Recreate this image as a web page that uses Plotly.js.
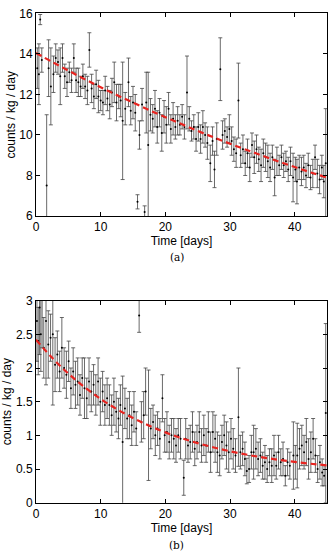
<!DOCTYPE html>
<html><head><meta charset="utf-8">
<script src="https://cdn.plot.ly/plotly-3.0.1.min.js"></script>
<style>html,body{margin:0;padding:0;background:#fff}#c{width:332px;height:551px}</style>
</head><body><div id="c"></div>
<script>
// ---- Panel (a) data ----
const timeA = [0.20,0.45,0.65,0.90,1.65,1.95,2.30,2.70,3.05,3.40,
  3.75,4.10,4.45,4.80,5.15,5.50,5.85,6.20,6.55,6.90,
  7.25,7.60,7.95,8.25,8.60,8.95,9.30,9.65,10.00,10.35,
  10.70,11.05,11.40,11.75,12.10,12.45,12.80,13.10,13.40,13.80,
  14.30,14.65,15.00,15.35,15.70,16.00,16.40,16.80,17.05,17.35,
  17.70,18.05,18.40,18.75,19.10,19.45,19.80,20.15,20.50,20.85,
  21.20,21.55,21.90,22.25,22.60,22.95,23.35,23.70,24.05,24.40,
  24.75,25.10,25.45,25.80,26.15,26.50,26.95,27.30,27.60,27.95,
  28.50,28.85,29.20,29.55,29.90,30.25,30.60,30.95,31.30,31.65,
  32.00,32.35,32.70,33.05,33.40,33.75,34.10,34.45,34.80,35.15,
  35.50,35.85,36.20,36.55,36.90,37.25,37.60,37.95,38.30,38.65,
  39.00,39.35,39.75,40.10,40.35,40.70,41.05,41.40,41.75,42.10,
  42.45,42.80,43.15,43.50,43.85,44.20,44.50,44.80];
const ratesA = [13.3,13.0,15.7,13.7,7.5,13.3,12.4,13.0,13.8,13.6,
  12.9,13.8,12.9,12.6,13.1,12.7,13.8,12.7,12.6,12.4,
  12.9,12.4,12.2,14.2,12.3,11.9,12.5,11.9,11.7,11.6,
  12.2,11.8,11.5,12.1,12.6,11.6,11.9,11.7,10.7,11.3,
  12.6,11.2,11.6,11.1,6.7,10.0,11.5,6.2,11.6,9.5,
  11.0,10.8,11.3,10.4,11.1,10.1,10.9,10.5,11.3,10.3,
  10.8,10.4,10.7,10.5,10.9,10.4,12.1,10.8,10.2,10.4,
  9.8,10.4,9.8,10.4,10.0,9.6,8.6,9.7,8.3,9.8,
  13.25,10.0,10.2,9.9,10.3,9.7,9.3,9.1,11.7,9.0,
  9.3,8.6,9.1,8.4,9.5,8.9,9.3,8.8,8.5,9.1,
  8.9,8.7,8.4,8.9,7.9,8.7,8.5,8.9,8.5,8.7,
  8.3,8.7,7.9,8.3,7.7,8.4,8.2,8.4,8.0,8.5,
  7.9,8.1,8.9,8.1,7.8,8.4,7.7,8.6];
const errsA = [1.0,1.5,0.25,0.6,3.5,1.4,1.9,0.9,0.7,0.6,
  1.4,0.7,0.6,0.7,0.5,0.6,0.7,0.6,0.7,0.5,
  0.6,0.6,0.7,0.85,0.7,0.6,0.7,0.8,0.5,0.6,
  0.7,0.6,0.7,0.7,1.0,0.9,0.6,0.8,2.9,0.8,
  1.2,0.7,0.8,0.9,0.35,0.7,0.8,0.3,1.5,3.6,
  0.8,0.7,0.9,0.8,0.7,0.9,0.8,0.9,0.8,0.7,
  0.8,0.6,0.7,0.5,0.6,0.6,1.8,0.6,0.5,0.6,
  0.6,0.7,0.7,0.8,0.6,0.8,0.9,0.7,0.9,0.8,
  1.55,0.7,0.6,0.5,0.7,0.7,0.6,0.7,1.85,0.6,
  0.7,0.6,0.7,0.7,0.6,0.8,0.7,0.6,0.8,0.7,
  0.7,0.8,0.7,0.6,0.9,0.7,0.5,0.6,0.6,0.5,
  0.6,0.7,1.2,0.6,1.1,0.6,0.7,0.6,0.6,0.6,
  0.6,0.7,0.6,0.7,0.7,0.6,0.8,2.7];
const fitTimeA = [0,2.5,5,7.5,10,12.5,15,17.5,20,22.5,25,27.5,30,32.5,35,37.5,40,42.5,45];
const fitA = [14.05,13.61,13.18,12.76,12.36,11.97,11.60,11.23,10.88,10.54,10.20,9.88,9.57,9.27,8.98,8.69,8.42,8.15,7.90];

// ---- Panel (b) data ----
const timeB = [0.15,0.35,0.55,0.75,0.95,1.20,1.55,1.90,2.25,2.60,
  2.95,3.30,3.65,4.00,4.35,4.70,5.05,5.40,5.75,6.10,
  6.45,6.80,7.15,7.50,7.85,8.20,8.55,8.90,9.25,9.60,
  9.95,10.30,10.65,11.00,11.35,11.70,12.05,12.40,12.75,13.05,
  13.40,13.75,14.10,14.45,14.80,15.15,15.50,15.95,16.30,16.65,
  16.95,17.40,17.75,18.10,18.45,18.80,19.15,19.55,19.90,20.25,
  20.60,20.95,21.30,21.65,22.00,22.35,22.85,23.15,23.50,23.85,
  24.20,24.55,24.90,25.25,25.60,25.95,26.30,26.65,27.00,27.35,
  27.70,28.05,28.40,28.75,29.10,29.45,29.80,30.15,30.50,30.85,
  31.30,31.60,31.95,32.30,32.60,32.95,33.30,33.65,34.00,34.35,
  34.70,35.05,35.40,35.75,36.10,36.45,36.80,37.15,37.50,37.85,
  38.20,38.55,38.90,39.25,39.80,40.10,40.40,40.75,41.10,41.45,
  41.80,42.15,42.50,42.85,43.20,43.55,43.90,44.25,44.55,44.80];
const ratesB = [2.7,2.4,2.9,2.5,3.2,2.3,2.7,2.35,2.45,2.5,
  2.05,2.2,1.95,2.3,2.0,1.9,2.1,1.7,1.95,1.75,
  1.8,1.6,1.85,1.7,1.55,1.8,1.65,1.75,1.6,1.8,
  1.5,1.65,1.45,1.55,1.45,1.3,1.5,1.35,1.25,1.45,
  0.9,1.4,1.25,1.3,1.15,1.35,1.1,2.78,1.2,1.3,
  1.65,1.15,1.1,1.2,1.0,1.1,0.95,1.55,1.0,1.05,
  0.9,1.0,0.95,0.85,1.0,0.95,0.37,0.95,0.85,0.9,
  1.05,0.8,0.9,1.05,0.85,1.0,0.85,1.05,0.75,1.05,
  0.95,0.75,0.7,0.9,1.0,0.85,0.75,0.95,0.8,0.7,
  1.27,0.75,0.8,0.65,0.47,0.5,0.75,0.75,0.8,0.65,
  0.7,0.55,0.6,0.5,0.6,0.55,0.7,0.55,0.75,0.6,
  0.65,0.4,0.6,0.55,0.7,0.6,0.7,0.8,0.85,0.75,
  0.9,0.65,0.75,0.95,0.7,0.5,0.6,0.45,0.4,1.33];
const errsB = [0.6,0.5,0.7,0.55,0.9,0.45,0.95,0.5,0.35,1.05,
  0.4,0.35,0.3,0.45,0.3,0.35,0.3,0.3,0.35,0.35,
  0.35,0.3,0.3,0.45,0.3,0.35,0.3,0.3,0.3,0.35,
  0.35,0.3,0.3,0.3,0.3,0.3,0.35,0.3,0.3,0.3,
  0.98,0.3,0.3,0.35,0.3,0.3,0.25,0.25,0.3,0.35,
  0.35,0.82,0.3,0.25,0.3,0.25,0.3,0.35,0.25,0.3,
  0.25,0.25,0.3,0.25,0.25,0.3,0.26,0.3,0.25,0.25,
  0.3,0.25,0.25,0.3,0.25,0.3,0.25,0.3,0.3,0.3,
  0.35,0.3,0.3,0.25,0.3,0.35,0.3,0.3,0.3,0.25,
  0.73,0.25,0.25,0.25,0.19,0.2,0.25,0.4,0.3,0.25,
  0.25,0.2,0.25,0.2,0.2,0.25,0.3,0.2,0.25,0.2,
  0.25,0.15,0.2,0.2,0.5,0.25,0.48,0.3,0.3,0.25,
  0.35,0.3,0.3,0.3,0.25,0.2,0.25,0.2,0.15,1.33];
const fitTimeB = [0,2.5,5,7.5,10,12.5,15,17.5,20,22.5,25,27.5,30,32.5,35,37.5,40,42.5,45];
const fitB = [2.42,2.151,1.918,1.716,1.541,1.389,1.257,1.143,1.044,0.959,0.884,0.820,0.764,0.715,0.673,0.637,0.605,0.578,0.554];

const xTicks = [0,10,20,30,40];
const yTicksA = [6,8,10,12,14,16];
const yTicksB = [0,0.5,1,1.5,2,2.5,3];
const xTitle = 'Time [days]';
const yTitle = 'counts / kg / day';
const panelLabels = ['(a)','(b)'];

const errStyle = (arr) => ({type:'data', array:arr, visible:true, color:'#444', thickness:0.8, width:2});
const pts = (x,y,e,xa,ya) => ({x:x, y:y, xaxis:xa, yaxis:ya, type:'scatter', mode:'markers',
  marker:{color:'#000', size:2}, error_y:errStyle(e), hoverinfo:'skip'});
const fit = (x,y,xa,ya) => ({x:x, y:y, xaxis:xa, yaxis:ya, type:'scatter', mode:'lines',
  line:{color:'#e8231f', width:2.2, dash:'6px,4px', shape:'spline'}, hoverinfo:'skip'});

const data = [
  pts(timeA, ratesA, errsA, 'x', 'y'), fit(fitTimeA, fitA, 'x', 'y'),
  pts(timeB, ratesB, errsB, 'x2', 'y2'), fit(fitTimeB, fitB, 'x2', 'y2')
];

const font = {family:'"Liberation Sans", Arial, Helvetica, sans-serif', size:12, color:'#000'};
const tfont = {family:'"Liberation Sans", Arial, Helvetica, sans-serif', size:12, color:'#000'};
const axBase = {showgrid:false, zeroline:false, showline:true, linecolor:'#000', linewidth:1,
  mirror:'ticks', ticks:'inside', ticklen:4, tickwidth:1, tickcolor:'#000', tickfont:font};

const layout = {
  width:332, height:551, margin:{l:0,r:0,t:0,b:0}, showlegend:false,
  paper_bgcolor:'#fff', plot_bgcolor:'#fff', font:font,
  xaxis: Object.assign({}, axBase, {domain:[0.1084,0.985], range:[0,45], tickvals:xTicks, anchor:'y',
    title:{text:xTitle, font:tfont, standoff:1}}),
  yaxis: Object.assign({}, axBase, {domain:[0.608,0.9755], range:[6,16], tickvals:yTicksA, anchor:'x',
    title:{text:yTitle, font:tfont, standoff:1}}),
  xaxis2: Object.assign({}, axBase, {domain:[0.1084,0.985], range:[0,45], tickvals:xTicks, anchor:'y2',
    title:{text:xTitle, font:tfont, standoff:1}}),
  yaxis2: Object.assign({}, axBase, {domain:[0.0877,0.4543], range:[0,3], tickvals:yTicksB, anchor:'x2',
    title:{text:yTitle, font:tfont, standoff:1}}),
  annotations: [
    {text:panelLabels[0], xref:'paper', yref:'paper', x:0.533, y:1-257/551, showarrow:false,
     font:{family:'"DejaVu Serif", "Liberation Serif", serif', size:10.5, color:'#000'}, xanchor:'center', yanchor:'middle'},
    {text:panelLabels[1], xref:'paper', yref:'paper', x:0.533, y:1-545/551, showarrow:false,
     font:{family:'"DejaVu Serif", "Liberation Serif", serif', size:10.5, color:'#000'}, xanchor:'center', yanchor:'middle'}
  ]
};

Plotly.newPlot('c', data, layout, {staticPlot:true, displayModeBar:false});
</script></body></html>
